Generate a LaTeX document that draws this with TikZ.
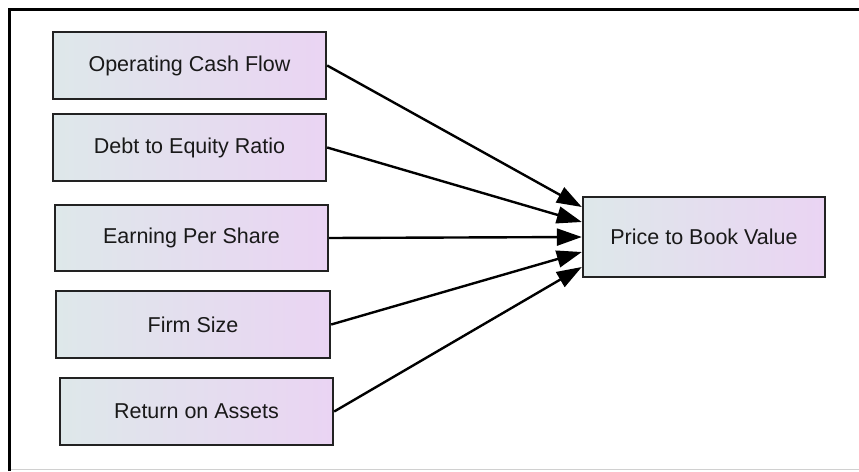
\documentclass[tikz,border=0pt]{standalone}
\usepackage{fontspec}
\setmainfont{Liberation Sans}
\usetikzlibrary{arrows.meta}
\definecolor{boxleft}{HTML}{DEE8EA}
\definecolor{boxright}{HTML}{EAD4F3}
\definecolor{boxedge}{HTML}{222222}
\definecolor{framegray}{HTML}{D0D0D0}
\tikzset{
  varbox/.style={draw=boxedge, line width=2.4pt, rectangle, inner sep=0pt,
    left color=boxleft, right color=boxright,
    font=\fontsize{21.5}{24}\selectfont, text=black!90},
  link/.style={line width=2.4pt, -{Triangle[length=25pt,width=17pt]}},
}
\begin{document}
\begin{tikzpicture}[x=1pt,y=-1pt]
\useasboundingbox (0,0) rectangle (859,471);
\draw[framegray, line width=1.5pt] (9,469.5) -- (859,469.5);
\draw[black, line width=3pt] (9,471) -- (9,9) -- (859,9);
\node[varbox, minimum width=273pt, minimum height=67pt] (ocf) at (189.5,65.5) {Operating Cash Flow};
\node[varbox, minimum width=273pt, minimum height=67pt] (der) at (189.5,147.5) {Debt to Equity Ratio};
\node[varbox, minimum width=273pt, minimum height=66pt] (eps) at (191.5,238) {Earning Per Share};
\node[varbox, minimum width=274pt, minimum height=67pt] (fs) at (193,324.5) {Firm Size};
\node[varbox, minimum width=273pt, minimum height=67pt] (roa) at (196.5,411.5) {Return on Assets};
\node[varbox, minimum width=242pt, minimum height=80pt] (pbv) at (704,237) {Price to Book Value};
\draw[link] (ocf.east) -- ([yshift=30pt]pbv.west);
\draw[link] (der.east) -- ([yshift=15pt]pbv.west);
\draw[link] (eps.east) -- (pbv.west);
\draw[link] (fs.east) -- ([yshift=-15pt]pbv.west);
\draw[link] (roa.east) -- ([yshift=-30pt]pbv.west);
\end{tikzpicture}
\end{document}
